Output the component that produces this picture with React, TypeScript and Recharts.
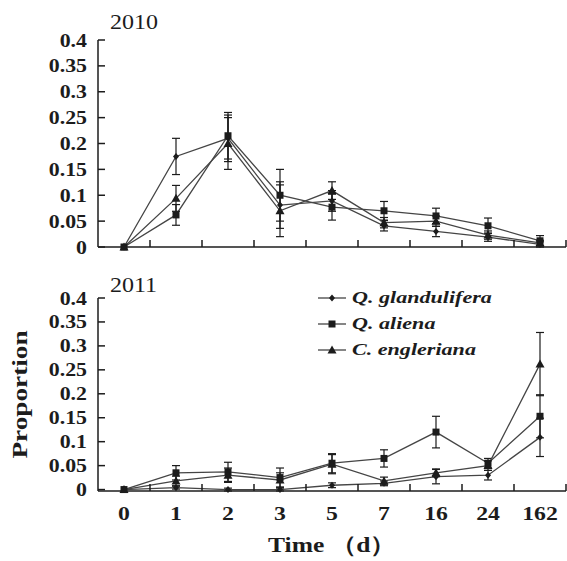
import { LineChart, Line, XAxis, YAxis, ErrorBar, Legend } from "recharts";

const DAYS = ["0", "1", "2", "3", "5", "7", "16", "24", "162"];
const Y_TICKS = [0, 0.05, 0.1, 0.15, 0.2, 0.25, 0.3, 0.35, 0.4];

// 2010
const G10 = [0, 0.175, 0.21, 0.081, 0.089, 0.041, 0.03, 0.019, 0.005];
const G10_ERR = [0, 0.035, 0.045, 0.045, 0.02, 0.01, 0.01, 0.008, 0.005];
const A10 = [0, 0.062, 0.215, 0.1, 0.077, 0.07, 0.06, 0.041, 0.012];
const A10_ERR = [0, 0.02, 0.045, 0.05, 0.025, 0.018, 0.015, 0.015, 0.01];
const E10 = [0, 0.094, 0.2, 0.07, 0.109, 0.047, 0.05, 0.023, 0.008];
const E10_ERR = [0, 0.025, 0.05, 0.05, 0.017, 0.01, 0.01, 0.008, 0.005];

// 2011
const G11 = [0, 0.004, 0, 0, 0.009, 0.013, 0.027, 0.03, 0.109];
const G11_ERR = [0, 0.003, 0.003, 0.003, 0.005, 0.005, 0.015, 0.01, 0.04];
const A11 = [0, 0.035, 0.037, 0.025, 0.055, 0.065, 0.12, 0.055, 0.153];
const A11_ERR = [0, 0.015, 0.02, 0.02, 0.02, 0.018, 0.033, 0.01, 0.045];
const E11 = [0, 0.018, 0.03, 0.02, 0.053, 0.018, 0.035, 0.05, 0.262];
const E11_ERR = [0, 0.01, 0.015, 0.015, 0.02, 0.008, 0.008, 0.01, 0.066];

const SERIES = [
  { key: "g", name: "Q. glandulifera", marker: "diamond" },
  { key: "a", name: "Q. aliena", marker: "square" },
  { key: "e", name: "C. engleriana", marker: "triangle" },
];

const W = 567;
const PLOT_LEFT = 98;
const PLOT_W = W - 1 - PLOT_LEFT;
const HALF_BAND = PLOT_W / DAYS.length / 2;
const SERIF = '"Liberation Serif", "Times New Roman", serif';
const INK = "#1c1c1c";
const LINE = "#454545";

const rows2010 = DAYS.map((d, i) => ({
  day: d,
  g: G10[i], gErr: G10_ERR[i],
  a: A10[i], aErr: A10_ERR[i],
  e: E10[i], eErr: E10_ERR[i],
}));
const rows2011 = DAYS.map((d, i) => ({
  day: d,
  g: G11[i], gErr: G11_ERR[i],
  a: A11[i], aErr: A11_ERR[i],
  e: E11[i], eErr: E11_ERR[i],
}));

// text squeezed/stretched horizontally like the scanned figure
function SText({ x, y, sx = 1.2, size = 19, weight = 700, italic = false, anchor = "start", rotate = 0, children }: any) {
  return (
    <text
      transform={`translate(${x},${y}) rotate(${rotate}) scale(${sx},1)`}
      textAnchor={anchor}
      fontFamily={SERIF}
      fontSize={size}
      fontWeight={weight}
      fontStyle={italic ? "italic" : "normal"}
      fill={INK}
    >
      {children}
    </text>
  );
}

function Marker({ cx, cy, kind }: any) {
  if (cx == null || cy == null) return null;
  if (kind === "square") return <rect x={cx - 3.5} y={cy - 3.5} width={7} height={7} fill={INK} />;
  if (kind === "triangle")
    return <polygon points={`${cx},${cy - 4.5} ${cx + 4.5},${cy + 3.5} ${cx - 4.5},${cy + 3.5}`} fill={INK} />;
  return <polygon points={`${cx},${cy - 3.5} ${cx + 3},${cy} ${cx},${cy + 3.5} ${cx - 3},${cy}`} fill={INK} />;
}

const fmt = (v: number) => String(+v.toFixed(2));

function YTick({ x, y, payload }: any) {
  return (
    <g>
      <line x1={x} x2={x + 7} y1={y} y2={y} stroke={INK} strokeWidth={1.5} />
      <SText x={x - 11} y={y + 6.5} sx={1.15} anchor="end">{fmt(payload.value)}</SText>
    </g>
  );
}

function makeXTick(showLabel: boolean) {
  return ({ x, y, payload }: any) => (
    <g>
      <line x1={x + HALF_BAND} x2={x + HALF_BAND} y1={y} y2={y - 7} stroke={INK} strokeWidth={1.5} />
      {showLabel && <SText x={x} y={y + 29} sx={1.25} anchor="middle">{payload.value}</SText>}
    </g>
  );
}

function LegendBox() {
  return (
    <svg width={250} height={80}>
      {SERIES.map((s, i) => {
        const cy = 10 + i * 26;
        return (
          <g key={s.key}>
            <line x1={6} x2={34} y1={cy} y2={cy} stroke={LINE} strokeWidth={1.3} />
            <Marker cx={20} cy={cy} kind={s.marker} />
            <SText x={40} y={cy + 5} size={17} italic sx={1.3}>{s.name}</SText>
          </g>
        );
      })}
    </svg>
  );
}

function Panel({ data, height, margin, xHeight, bottom }: any) {
  return (
    <LineChart width={W} height={height} data={data} margin={margin}>
      <XAxis
        dataKey="day"
        scale="band"
        height={xHeight}
        tickSize={0}
        tickMargin={0}
        tickLine={false}
        interval={0}
        axisLine={{ stroke: INK, strokeWidth: 1.5 }}
        tick={makeXTick(bottom)}
        label={
          bottom
            ? {
                content: ({ viewBox }: any) => (
                  <SText x={268} y={viewBox.y + 61} size={22} sx={1.16}>
                    Time （d）
                  </SText>
                ),
              }
            : undefined
        }
      />
      <YAxis
        width={PLOT_LEFT}
        domain={[0, 0.4]}
        ticks={Y_TICKS}
        interval={0}
        tickSize={0}
        tickMargin={0}
        tickLine={false}
        axisLine={{ stroke: INK, strokeWidth: 1.5 }}
        tick={<YTick />}
        label={
          bottom
            ? {
                content: ({ viewBox }: any) => (
                  <SText x={27} y={viewBox.y + viewBox.height / 2} size={22} sx={1.24} rotate={-90} anchor="middle">
                    Proportion
                  </SText>
                ),
              }
            : undefined
        }
      />
      {bottom && (
        <Legend
          layout="vertical"
          align="center"
          verticalAlign="middle"
          wrapperStyle={{ left: 312, top: 28, width: 250, height: 80 }}
          content={() => <LegendBox />}
        />
      )}
      {SERIES.map((s) => (
        <Line
          key={s.key}
          dataKey={s.key}
          name={s.name}
          type="linear"
          stroke={LINE}
          strokeWidth={1.3}
          isAnimationActive={false}
          dot={(p: any) => <Marker key={`${s.key}-${p.index}`} cx={p.cx} cy={p.cy} kind={s.marker} />}
          activeDot={false}
        >
          <ErrorBar dataKey={`${s.key}Err`} width={4} stroke={INK} strokeWidth={1.2} direction="y" />
        </Line>
      ))}
    </LineChart>
  );
}

export default function App() {
  return (
    <div style={{ position: "absolute", left: 0, top: 0, width: W, height: 561, background: "#fff" }}>
      <div style={{ position: "absolute", left: 0, top: 0 }}>
        <Panel data={rows2010} height={260} margin={{ top: 40, right: 1, left: 0, bottom: 0 }} xHeight={13} bottom={false} />
      </div>
      <div style={{ position: "absolute", left: 0, top: 260 }}>
        <Panel data={rows2011} height={301} margin={{ top: 38, right: 1, left: 0, bottom: 0 }} xHeight={70} bottom={true} />
      </div>
      <svg width={W} height={561} style={{ position: "absolute", left: 0, top: 0, pointerEvents: "none" }}>
        <SText x={110} y={29} size={20} weight={400} sx={1.2}>2010</SText>
        <SText x={110} y={292} size={20} weight={400} sx={1.2}>2011</SText>
      </svg>
    </div>
  );
}
